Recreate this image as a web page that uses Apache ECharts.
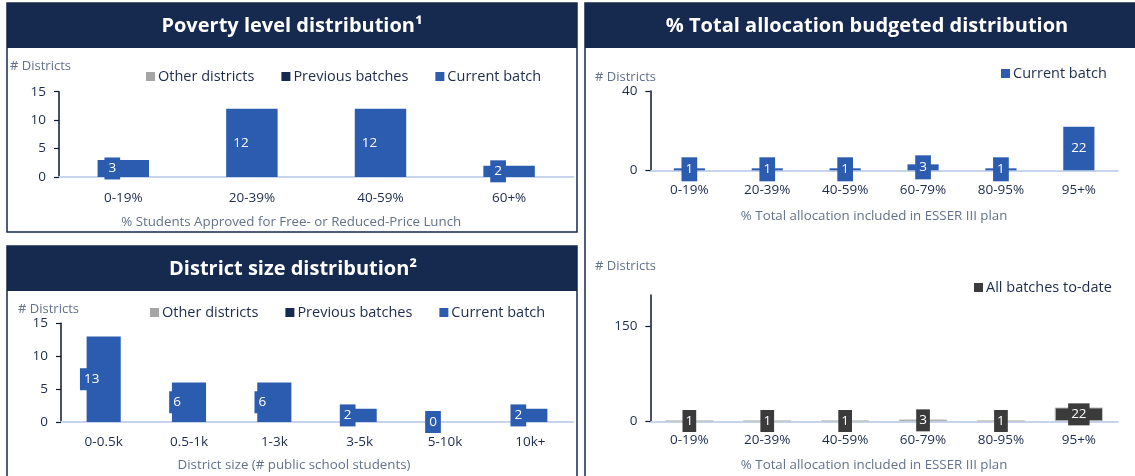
<!DOCTYPE html>
<html><head><meta charset="utf-8">
<script src="https://cdn.jsdelivr.net/npm/echarts@6/dist/echarts.min.js"></script>
<style>html,body{margin:0;padding:0;background:#fff}#c{width:1135px;height:476px}</style>
</head><body><div id="c"></div>
<script>
// ---- data ----
const povertyCategories = ['0-19%', '20-39%', '40-59%', '60+%'];
const povertyOther = [0, 0, 0, 0];
const povertyPrevious = [0, 0, 0, 0];
const povertyCurrent = [3, 12, 12, 2];
const povertyTicks = [0, 5, 10, 15];

const sizeCategories = ['0-0.5k', '0.5-1k', '1-3k', '3-5k', '5-10k', '10k+'];
const sizeOther = [0, 0, 0, 0, 0, 0];
const sizePrevious = [0, 0, 0, 0, 0, 0];
const sizeCurrent = [13, 6, 6, 2, 0, 2];
const sizeTicks = [0, 5, 10, 15];

const allocCategories = ['0-19%', '20-39%', '40-59%', '60-79%', '80-95%', '95+%'];
const allocCurrent = [1, 1, 1, 3, 1, 22];
const allocCurrentTicks = [0, 40];
const allocAll = [1, 1, 1, 3, 1, 22];
const allocAllTicks = [0, 150];
const allocAllMax = 200;

// ---- styles ----
const NAVY = '#16294f';
const BLUE = '#2c5caf';
const GRAY = '#a5a5a5';
const DARK = '#3b3b3b';
const AXISBLUE = '#c6d5ec';
const TXT = '#1d2c4c';
const SUB = '#63728b';
const FONT = 'Open Sans';

function yAx(gi, ticks, extra) {
  const o = {
    type: 'value', gridIndex: gi, min: ticks[0], max: ticks[ticks.length - 1],
    interval: ticks[1] - ticks[0],
    axisLine: { show: true, lineStyle: { color: '#0c1830', width: 1.5 } },
    axisTick: { show: true, length: 5, lineStyle: { color: '#0c1830', width: 1.2 } },
    splitLine: { show: false },
    axisLabel: { color: TXT, fontSize: 13.5, fontFamily: FONT, margin: 13 }
  };
  return Object.assign(o, extra || {});
}
function xAx(gi, cats, name, shift, gap, lm) {
  return {
    type: 'category', gridIndex: gi, data: cats,
    axisLine: { show: true, lineStyle: { color: AXISBLUE, width: 2 } },
    axisTick: { show: false },
    axisLabel: { color: TXT, fontSize: 13.5, fontFamily: FONT, margin: lm },
    name: name, nameLocation: 'middle', nameGap: gap,
    nameTextStyle: { color: SUB, fontSize: 13.3, fontFamily: FONT, padding: [0, shift * 2, 0, 0] }
  };
}
function lbl(bg, dx, pad) {
  return { show: true, position: 'inside', offset: [dx, 0], color: '#fff', fontSize: 13.5,
    fontFamily: FONT, backgroundColor: bg, padding: pad };
}
function legend(left, top, names, colors) {
  return {
    left: left, top: top, itemWidth: 9, itemHeight: 9, itemGap: 27, icon: 'rect',
    selectedMode: false,
    data: names.map((n, i) => ({ name: n, itemStyle: { color: colors[i], borderWidth: 0 } })),
    textStyle: { color: TXT, fontSize: 14.5, fontFamily: FONT, padding: [0, 0, 0, -2] }
  };
}
function dLabel(x, y) {
  return { type: 'text', x: x, y: y, style: { text: '# Districts', fill: SUB, fontSize: 13, fontFamily: FONT } };
}

const chart = echarts.init(document.getElementById('c'), null, { renderer: 'canvas' });
const option = {
  backgroundColor: '#fff',
  animation: false,
  textStyle: { fontFamily: FONT },
  graphic: [
    { type: 'rect', shape: { x: 7, y: 3, width: 570, height: 229 }, style: { fill: 'none', stroke: NAVY, lineWidth: 1.5 } },
    { type: 'rect', shape: { x: 7, y: 3, width: 570, height: 45 }, style: { fill: NAVY } },
    { type: 'rect', shape: { x: 7, y: 246, width: 570, height: 240 }, style: { fill: 'none', stroke: NAVY, lineWidth: 1.5 } },
    { type: 'rect', shape: { x: 7, y: 246, width: 570, height: 45 }, style: { fill: NAVY } },
    { type: 'rect', shape: { x: 585, y: 3, width: 560, height: 490 }, style: { fill: 'none', stroke: NAVY, lineWidth: 1.5 } },
    { type: 'rect', shape: { x: 585, y: 3, width: 560, height: 45 }, style: { fill: NAVY } },
    dLabel(10, 60),
    dLabel(18, 303),
    dLabel(595, 71),
    dLabel(595, 260)
  ],
  title: [
    { text: 'Poverty level distribution¹', left: 287, top: 11, textAlign: 'center',
      textStyle: { color: '#fff', fontSize: 20, fontWeight: 'bold', fontFamily: FONT } },
    { text: 'District size distribution²', left: 288, top: 254, textAlign: 'center',
      textStyle: { color: '#fff', fontSize: 20, fontWeight: 'bold', fontFamily: FONT } },
    { text: '% Total allocation budgeted distribution', left: 862, top: 11, textAlign: 'center',
      textStyle: { color: '#fff', fontSize: 20, fontWeight: 'bold', fontFamily: FONT } }
  ],
  legend: [
    legend(141, 64, ['Other districts', 'Previous batches', 'Current batch'], [GRAY, NAVY, BLUE]),
    legend(145, 300, ['Other districts', 'Previous batches', 'Current batch'], [GRAY, NAVY, BLUE]),
    legend(996, 61, ['Current batch'], [BLUE]),
    legend(969, 275, ['All batches to-date'], [DARK])
  ],
  grid: [
    { left: 59, top: 91.7, width: 514.4, height: 85.3 },
    { left: 61, top: 323.3, width: 512, height: 98.7 },
    { left: 650.4, top: 91, width: 467.4, height: 79.3 },
    { left: 650.4, top: 295, width: 467.4, height: 126.3 }
  ],
  xAxis: [
    xAx(0, povertyCategories, '% Students Approved for Free- or Reduced-Price Lunch', 25, 39, 14),
    xAx(1, sizeCategories, 'District size (# public school students)', 23, 37, 13),
    xAx(2, allocCategories, '% Total allocation included in ESSER III plan', 10, 39, 13),
    xAx(3, allocCategories, '% Total allocation included in ESSER III plan', 10, 37, 12)
  ],
  yAxis: [
    yAx(0, povertyTicks),
    yAx(1, sizeTicks),
    yAx(2, allocCurrentTicks),
    yAx(3, allocAllTicks, { max: allocAllMax, interval: null,
      axisLabel: { color: TXT, fontSize: 13.5, fontFamily: FONT, margin: 13, customValues: allocAllTicks },
      axisTick: { show: true, length: 5, lineStyle: { color: '#0c1830', width: 1.2 }, customValues: allocAllTicks } })
  ],
  series: [
    { name: 'Other districts', type: 'bar', xAxisIndex: 0, yAxisIndex: 0, stack: 'p', barWidth: '40%', data: povertyOther, itemStyle: { color: GRAY } },
    { name: 'Previous batches', type: 'bar', xAxisIndex: 0, yAxisIndex: 0, stack: 'p', barWidth: '40%', data: povertyPrevious, itemStyle: { color: NAVY } },
    { name: 'Current batch', type: 'bar', xAxisIndex: 0, yAxisIndex: 0, stack: 'p', barWidth: '40%', data: povertyCurrent, itemStyle: { color: BLUE }, label: lbl(BLUE, -11, [4, 4]) },
    { name: 'Other districts', type: 'bar', xAxisIndex: 1, yAxisIndex: 1, stack: 's', barWidth: '40%', data: sizeOther, itemStyle: { color: GRAY } },
    { name: 'Previous batches', type: 'bar', xAxisIndex: 1, yAxisIndex: 1, stack: 's', barWidth: '40%', data: sizePrevious, itemStyle: { color: NAVY } },
    { name: 'Current batch', type: 'bar', xAxisIndex: 1, yAxisIndex: 1, stack: 's', barWidth: '40%', data: sizeCurrent, itemStyle: { color: BLUE }, label: lbl(BLUE, -12, [4, 4]) },
    { name: 'Current batch', type: 'bar', xAxisIndex: 2, yAxisIndex: 2, barWidth: '40%', data: allocCurrent, itemStyle: { color: BLUE }, label: lbl(BLUE, 0, [5, 4]) },
    { name: 'All batches to-date', type: 'bar', xAxisIndex: 3, yAxisIndex: 3, barWidth: '62%', data: allocAll, itemStyle: { color: DARK, borderColor: '#c4c4c4', borderWidth: 1 }, label: lbl(DARK, 0, [4, 3]) }
  ]
};
chart.setOption(option);
</script></body></html>
